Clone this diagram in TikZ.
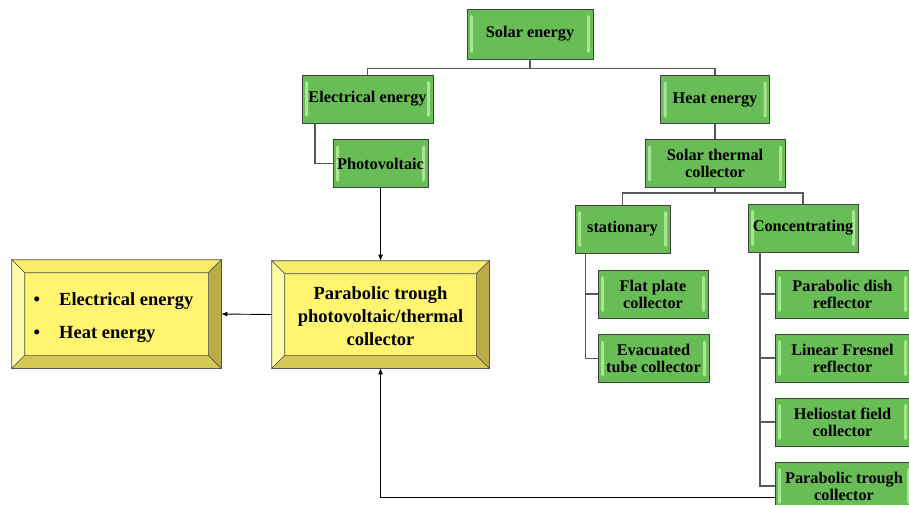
\documentclass[tikz,border=0pt]{standalone}
\usepackage{fontspec}
\setmainfont{Liberation Serif}
\usetikzlibrary{arrows.meta,calc}

\definecolor{boxgreen}{RGB}{104,189,86}
\definecolor{boxshine}{RGB}{168,230,148}
\definecolor{bevface}{RGB}{255,245,112}
\definecolor{bevtop}{RGB}{248,236,104}
\definecolor{bevleft}{RGB}{255,251,168}
\definecolor{bevright}{RGB}{188,172,72}
\definecolor{bevbottom}{RGB}{214,198,84}

% bevel round a yellow node
\newcommand{\bevelbox}[1]{%
  \filldraw[bevtop, draw=black!70, line width=0.6pt] (#1.north west) -- (#1.north east) -- ([shift={(-13,13)}]#1.north east) -- ([shift={(13,13)}]#1.north west) -- cycle;
  \filldraw[bevbottom, draw=black!70, line width=0.6pt] (#1.south west) -- (#1.south east) -- ([shift={(-13,-13)}]#1.south east) -- ([shift={(13,-13)}]#1.south west) -- cycle;
  \filldraw[bevleft, draw=black!70, line width=0.6pt] (#1.north west) -- (#1.south west) -- ([shift={(13,-13)}]#1.south west) -- ([shift={(13,13)}]#1.north west) -- cycle;
  \filldraw[bevright, draw=black!70, line width=0.6pt] (#1.north east) -- (#1.south east) -- ([shift={(-13,-13)}]#1.south east) -- ([shift={(-13,13)}]#1.north east) -- cycle;
}

\begin{document}
\begin{tikzpicture}[x=1pt, y=-1pt,
  greenbox/.style={draw=black!75, fill=boxgreen, line width=0.8pt, minimum height=48, inner sep=2pt,
    align=center, font=\bfseries\fontsize{16.3}{17}\selectfont,
    path picture={
      \fill[boxshine, rounded corners=1.5pt] ([xshift=3pt,yshift=-6pt]path picture bounding box.north west) rectangle ([xshift=6pt,yshift=6pt]path picture bounding box.south west);
      \fill[boxshine, rounded corners=1.5pt] ([xshift=-3pt,yshift=-6pt]path picture bounding box.north east) rectangle ([xshift=-6pt,yshift=6pt]path picture bounding box.south east);
    }},
  yellowbox/.style={draw=black!80, fill=bevface, line width=0.6pt, inner sep=0pt,
    font=\bfseries\fontsize{18.5}{23}\selectfont},
  link/.style={draw=black!65, line width=1.3pt},
  feed/.style={draw=black, line width=0.9pt, -{Latex[length=6pt,width=5pt]}}]

  \clip (0,0) rectangle (909,504);
  \useasboundingbox (0,0) rectangle (909,504);

  % top of the tree
  \node[greenbox, minimum width=126, minimum height=50] (solar) at (530,34) {Solar energy};
  \node[greenbox, minimum width=131] (elec) at (367.5,99) {Electrical energy};
  \node[greenbox, minimum width=109] (heat) at (715,99.5) {Heat energy};
  \node[greenbox, minimum width=95] (pv) at (380.5,163.5) {Photovoltaic};
  \node[greenbox, minimum width=140] (stc) at (715,163.5) {Solar thermal\\collector};

  % collector types
  \node[greenbox, minimum width=95] (stat) at (622.5,229) {stationary};
  \node[greenbox, minimum width=110] (conc) at (803,228) {Concentrating};
  \node[greenbox, minimum width=110] (flat) at (653,294) {Flat plate\\collector};
  \node[greenbox, minimum width=111] (evac) at (653.5,358.5) {Evacuated\\tube collector};
  \node[greenbox, minimum width=135] (dish) at (842.5,294) {Parabolic dish\\reflector};
  \node[greenbox, minimum width=135] (fresnel) at (842.5,358) {Linear Fresnel\\reflector};
  \node[greenbox, minimum width=135] (helio) at (842.5,422) {Heliostat field\\collector};
  \node[greenbox, minimum width=138] (trough) at (844,486) {Parabolic trough\\collector};

  % yellow boxes
  \node[yellowbox, minimum width=217, minimum height=107] (pvt) at (380.5,314.5) {};
  \bevelbox{pvt}
  \node[yellowbox, draw=none, fill=none, align=center] at ([yshift=-2pt]pvt.center) {Parabolic trough\\photovoltaic/thermal\\collector};
  \node[yellowbox, minimum width=209, minimum height=108] (out) at (116.5,314) {};
  \bevelbox{out}
  \node[yellowbox, draw=none, fill=none, align=left] at ([xshift=-3pt,yshift=-4pt]out.center)
    {\textbullet\hspace{19pt}Electrical energy\\[10pt]\textbullet\hspace{19pt}Heat energy};

  % tree links
  \draw[link] (solar.south) -- ++(0,9) -| (elec.north);
  \draw[link] (solar.south) -- ++(0,9) -| (heat.north);
  \draw[link] (heat.south) -- (stc.north);
  \draw[link] ([xshift=-52.5]elec.south) |- (pv.west);
  \draw[link] (stc.south) -- ++(0,5) -| (stat.north);
  \draw[link] (stc.south) -- ++(0,5) -| (conc.north);
  \draw[link] ([xshift=-37]stat.south) |- (flat.west);
  \draw[link] ([xshift=-37]stat.south) |- (evac.west);
  \draw[link] ([xshift=-43]conc.south) |- (dish.west);
  \draw[link] ([xshift=-43]conc.south) |- (fresnel.west);
  \draw[link] ([xshift=-43]conc.south) |- (helio.west);
  \draw[link] ([xshift=-43]conc.south) |- (trough.west);

  % arrows
  \draw[feed] (pv.south) -- (pvt.north);
  \draw[feed] (pvt.west) -- (out.east);
  \draw[feed] ([yshift=-11pt]trough.west) -| (pvt.south);
\end{tikzpicture}
\end{document}
